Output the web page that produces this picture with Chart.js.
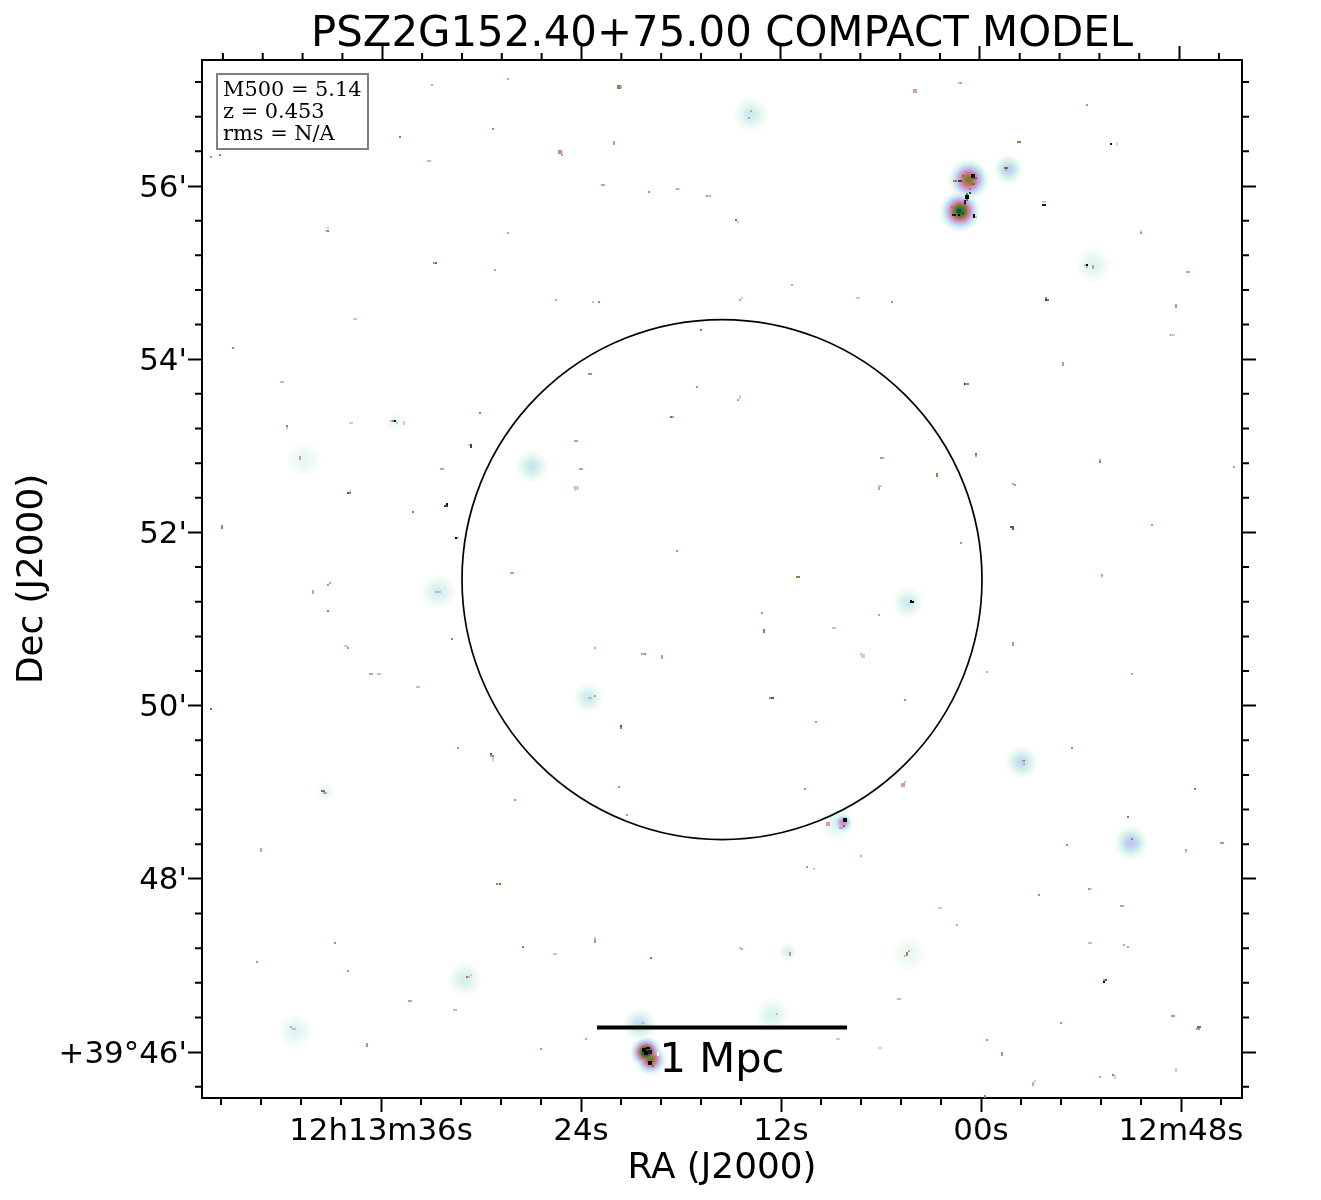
<!DOCTYPE html>
<html><head><meta charset="utf-8">
<style>html,body{margin:0;padding:0;background:#fff}canvas{display:block}</style>
<script src="https://cdn.jsdelivr.net/npm/chart.js@4"></script>
</head><body><canvas id="c" width="1321" height="1200"></canvas>
<script>
// Axis values: RA = seconds relative to 12h13m00s, Dec = arcminutes relative to +39d
const raTicks = [36, 24, 12, 0, -12];
const raTickLabels = ['12h13m36s', '24s', '12s', '00s', '12m48s'];
const raMinor = [45.6,43.2,40.8,38.4,33.6,31.2,28.8,26.4,21.6,19.2,16.8,14.4,9.6,7.2,4.8,2.4,-2.4,-4.8,-7.2,-9.6,-14.4];
const decTicks = [46, 48, 50, 52, 54, 56];
const decTickLabels = ["+39°46'", "48'", "50'", "52'", "54'", "56'"];
const decMinor = [45.6,46.4,46.8,47.2,47.6,48.4,48.8,49.2,49.6,50.4,50.8,51.2,51.6,52.4,52.8,53.2,53.6,54.4,54.8,55.2,55.6,56.4,56.8,57.2];
const titleText = 'PSZ2G152.40+75.00 COMPACT MODEL';
const noteLines = ['M500 = 5.14', 'z = 0.453', 'rms = N/A'];

// Extended emission: [RA, Dec, peak colour level above the halo, sigma]
const sources = [
 [40.62,52.840,.02,7.3],[35.14,53.263,.01,4],[26.94,52.759,.10,7.3],[32.56,51.317,.07,7.3],[39.32,49.010,.01,4],
 [30.98,46.839,.06,7.3],[41.14,46.242,.03,7.3],[13.82,56.824,.08,7.5],[23.56,50.092,.08,6.5],[8.62,48.641,.04,7.3],
 [8.28,48.648,.33,4.5],[11.60,47.155,.05,4],[12.52,46.435,.05,7.3],[20.48,46.319,.12,7.3],[-1.64,56.193,.17,6.6],
 [0.74,56.074,.52,9],[1.26,55.708,.66,9],[-6.72,55.084,.04,7.3],[4.40,51.189,.08,6.8],[-2.44,49.349,.13,7.3],
 [-9.00,48.417,.18,7.6],[4.34,47.136,.01,7.3],[19.82,45.915,.55,7],[20.10,46.000,.75,7]
];
// Compact pixels per colour: [RA, Dec, shape] (shape 0 square, 1 wide, 2 tall, 3 large)
const paleBlue = [[39.18,55.511],[39.30,55.484],[37.56,54.464,1],[37.80,53.263,1],[35.02,53.263],[34.62,53.263,2],[41.64,53.209],[30.72,53.013],[37.86,52.481],[18.12,55.966],[14.58,55.588],[23.28,54.664],[14.34,54.711],[7.38,54.711,1],[14.46,53.563,2],[24.22,52.512,3],[24.36,52.485],[6.06,52.539,1],[-8.16,56.489],[-3.76,55.812,1],[-9.60,55.484],[-11.54,54.283,1],[-7.26,51.488],[38.08,50.685,1],[29.28,49.384,2],[30.60,46.885],[7.06,50.574,3],[10.02,48.109],[23.16,47.312],[8.56,46.157,1],[6.06,46.042,1],[2.44,47.659,1],[-12.32,48.310],[-6.60,47.886],[-3.24,45.661],[-8.04,45.718,2],[-11.70,45.796,2]];
const lavender = [[33.12,56.293,1],[41.94,53.740,1],[35.40,53.290],[32.66,51.317,1],[32.50,51.317,1],[25.14,56.393],[1.32,57.194],[-6.24,55.092],[-6.36,55.065],[0.30,55.638],[36.12,50.362,1],[33.78,50.212,1],[30.72,46.862],[31.56,46.481,1],[41.20,46.262,1],[8.82,50.893,1],[7.18,50.593],[23.44,50.085,1],[25.56,47.136,1],[14.46,47.197],[12.24,46.435],[20.26,46.331,1],[4.56,49.114],[-6.54,47.255,1],[4.56,47.105],[4.92,46.608,1],[31.38,51.939]];
const orchid = [[32.96,57.171],[28.38,57.240],[41.88,53.740],[28.38,55.461],[29.16,55.034],[40.86,52.855,2],[32.34,52.736,1],[28.12,51.534,1],[21.60,57.144],[13.80,56.870],[13.92,56.790],[22.02,56.501,2],[25.14,56.362],[22.66,56.016,1],[18.24,55.966],[16.26,55.889],[11.34,54.861],[25.50,54.688],[14.46,54.688],[18.48,53.336],[24.28,53.059,1],[24.00,52.736,1],[24.36,52.512,2],[5.88,52.863],[6.12,52.512,2],[3.94,57.101,3],[1.20,57.194],[-1.52,56.189],[-6.72,55.065,2],[-12.40,55.011,1],[0.30,52.886],[-7.14,52.839],[-15.18,52.759],[-1.94,52.562],[-7.26,51.511],[39.06,51.413],[40.08,51.317,2],[36.58,50.362,1],[29.40,49.415],[39.36,48.987,1],[43.20,48.337,2],[34.24,46.585,1],[41.40,46.285],[6.12,51.043],[23.16,50.662],[20.28,50.593,1],[19.14,50.566,2],[23.16,50.108],[8.34,48.637],[8.40,48.591,1],[9.18,48.637,3],[7.20,48.260],[14.36,47.189],[23.70,46.157],[-0.36,50.385],[-9.06,50.362],[-2.58,49.326],[4.70,49.087,3],[-12.32,48.333],[-8.44,47.682,1],[1.44,47.463],[-8.58,47.232],[-8.82,47.209],[4.32,47.162],[-3.12,45.634,2],[-7.14,45.707]];
const pink = [[46.20,56.339],[32.82,55.115],[25.26,56.393,3],[19.92,55.935],[16.42,55.889],[17.04,53.683],[14.58,53.533],[6.00,52.863],[18.24,51.788],[37.98,50.662],[39.18,51.390],[31.38,49.507],[27.96,48.906],[43.44,47.035],[37.98,46.931],[36.84,46.084,2],[26.40,46.030],[-6.36,56.940],[-9.60,55.461],[-11.70,54.614,2],[-11.40,54.283],[-4.92,53.948,2],[-2.04,52.543],[-10.26,52.089],[1.20,51.881],[13.14,51.066],[9.90,49.807],[21.72,49.057],[10.56,49.034],[21.24,48.733],[10.44,48.133],[23.16,47.286,2],[11.46,47.136,2],[-1.92,50.716,2],[-2.50,49.357],[-14.46,48.410,1],[-6.48,47.886],[-7.38,46.835],[-11.54,46.412,1],[-13.04,46.262,1],[-4.80,46.331],[-0.36,46.134],[-1.26,45.973,2]];
const rose = [[29.28,56.663],[22.92,54.664],[5.34,54.664],[23.44,53.833,1],[38.76,47.255],[12.66,50.085],[4.56,50.061],[-5.46,49.507],[-5.16,48.387],[-3.48,47.809]];
const dustyBrown = [[39.18,55.484],[44.88,54.133],[35.28,53.290],[41.64,53.232],[30.06,53.382],[37.86,52.459],[45.54,52.062,2],[39.18,51.089],[31.74,50.766],[29.28,49.415],[30.84,46.862],[1.54,56.062,1],[0.82,53.713,1],[-3.90,54.703],[-7.14,52.812],[-2.58,49.357],[-9.06,48.456],[4.44,47.136,2],[-7.92,45.730],[-0.24,45.484,2],[21.60,49.738]];
const tan = [[34.86,56.570],[45.66,56.362],[34.08,52.239],[21.72,57.144,3],[16.80,54.341],[10.96,51.488,1],[-2.30,56.512,1],[0.66,55.966],[1.74,55.762],[2.64,52.662,2],[27.48,47.209],[13.02,50.866,2],[20.16,50.593],[19.80,47.082],[-12.84,49.034],[-8.82,48.710],[29.04,47.936]];
const olive = [[32.68,55.115],[14.70,55.612],[18.60,53.336],[46.20,49.957],[39.48,49.010,1],[28.86,47.936],[1.08,56.116],[0.30,56.089],[0.48,56.020,1],[0.82,55.908],[0.82,55.839],[0.96,55.785],[-1.52,56.212,1],[-4.02,54.688],[0.30,52.909],[8.22,48.606],[19.68,45.838],[-13.10,46.285,1]];
const green = [[37.98,52.459],[-1.86,52.058,1],[-1.92,52.035],[29.40,49.438],[12.52,50.085,1],[21.60,49.761],[-7.50,46.835]];
const teal = [[30.62,53.001,2],[32.10,52.308,1],[0.42,56.089],[1.26,56.062,1],[0.66,55.923],[1.30,55.716,3],[1.10,55.692],[-3.90,54.688]];
const navy = [[0.96,55.812,2],[1.60,55.665,1],[-3.76,55.785,1],[0.96,53.713],[19.88,46.000,3]];
const black = [[35.16,53.290],[32.04,52.331],[31.50,51.939],[0.48,56.116,3],[0.82,55.877,3],[1.34,55.665],[0.42,55.654,2],[-7.80,56.489],[-6.36,55.092],[8.16,48.675,3],[4.20,51.209],[4.14,51.193,1],[-7.38,46.808],[20.22,46.023,3],[19.98,46.050,1],[20.12,45.992,3],[19.88,45.877,3]];
const holes = [[19.38,45.973,2]];
const speckGroups = [[paleBlue,.2],[lavender,.25],[orchid,.32],[pink,.38],[rose,.43],[dustyBrown,.47],[tan,.5],[olive,.57],[green,.65],[teal,.75],[navy,.88],[black,1],[holes,0]];

// R500 circle and 1 Mpc scale bar
const r500Circle = [{x:15.54,y:51.456}];
const scaleBarRA = [23.04, 8.04];
const scaleBarDec = 46.283;
const scaleBarLabel = '1 Mpc';

// reversed cubehelix colour map
function cmap(v){
  const f = 1 - Math.min(1, Math.max(0, v));
  const a = f*(1-f)/2, ang = 2*Math.PI*(0.5/3 - 1.5*f), c = Math.cos(ang), s = Math.sin(ang);
  const ch = (p,q)=>Math.round(255*Math.min(1,Math.max(0,f + a*(p*c+q*s))));
  return `rgb(${ch(-0.14861,1.78277)},${ch(-0.29227,-0.90649)},${ch(1.97294,0)})`;
}
const shapeSize = [[2,2],[4,2],[2,4],[4,4]];
const styleCache = {};
function speckStyle(level, shape){
  const k = level+'_'+shape;
  if(!styleCache[k]){
    const cv = document.createElement('canvas');
    cv.width = shapeSize[shape][0]; cv.height = shapeSize[shape][1];
    const g = cv.getContext('2d'); g.fillStyle = level===0?'#fff':cmap(level); g.fillRect(0,0,cv.width,cv.height);
    styleCache[k] = cv;
  }
  return styleCache[k];
}
const HALO_LEVEL = 0.033;
function haloFill(ctx){
  const d = ctx.raw; if(!d) return 'transparent';
  const sc = ctx.chart.scales, px = sc.x.getPixelForValue(d.x), py = sc.y.getPixelForValue(d.y), R = d.sigma*2.4;
  if(!isFinite(px)||!isFinite(py)) return 'transparent';
  const g = ctx.chart.ctx.createRadialGradient(px,py,0,px,py,R);
  for(let i=0;i<=16;i++){
    const t=i/16, r=t*R;
    g.addColorStop(t, cmap((d.peak*Math.exp(-r*r/(2*d.sigma*d.sigma))+HALO_LEVEL)*(1-Math.pow(t,3))));
  }
  return g;
}
const datasets = [];
datasets.push({label:'extended', order:5,
  data:sources.map(s=>({x:s[0],y:s[1],peak:s[2],sigma:s[3]})),
  pointBackgroundColor:haloFill, pointBorderWidth:0, pointRadius:c=>c.raw?c.raw.sigma*2.4:0, pointStyle:'circle'});
speckGroups.forEach(([arr,level],i)=>datasets.push({label:'pixels '+i, order:4,
  data:arr.map(p=>({x:p[0],y:p[1],shape:p[2]||0})),
  pointRadius:1, pointStyle:c=>speckStyle(level,c.raw?c.raw.shape:0)}));
datasets.push({label:'R500', order:3, data:r500Circle, pointRadius:260, pointBackgroundColor:'transparent',
  pointBorderColor:'#000', pointBorderWidth:1.7, clip:false});
datasets.push({label:'scale bar', order:2, showLine:true, data:scaleBarRA.map(x=>({x,y:scaleBarDec})),
  pointRadius:0, borderColor:'#000', borderWidth:4});

const FONT = "'DejaVu Sans'";
const decorate = {
  id:'decorate',
  beforeDatasetDraw(chart,args){ if(args.index===0) chart.ctx.globalCompositeOperation='darken'; chart.ctx.imageSmoothingEnabled=false; },
  afterDatasetDraw(chart,args){ if(args.index===0) chart.ctx.globalCompositeOperation='source-over'; },
  afterDraw(chart){
    const c = chart.ctx, {x,y,xTop} = chart.scales, A = chart.chartArea;
    // minor ticks on all four sides
    c.save(); c.strokeStyle='#000'; c.lineWidth=2; c.beginPath();
    raMinor.forEach(v=>{ const p=x.getPixelForValue(v); c.moveTo(p,A.bottom); c.lineTo(p,A.bottom+7); const q=xTop.getPixelForValue(v); c.moveTo(q,A.top); c.lineTo(q,A.top-7); });
    decMinor.forEach(v=>{ const p=y.getPixelForValue(v); c.moveTo(A.left,p); c.lineTo(A.left-7,p); c.moveTo(A.right,p); c.lineTo(A.right+7,p); });
    c.stroke();
    // scale bar caption
    c.fillStyle='#000'; c.font=`41.67px ${FONT}`; c.textAlign='center'; c.textBaseline='alphabetic';
    c.fillText(scaleBarLabel, x.getPixelForValue((scaleBarRA[0]+scaleBarRA[1])/2), y.getPixelForValue(scaleBarDec)+44);
    // parameter box
    const bx=A.left+15, by=A.top+14;
    c.fillStyle='#fff'; c.fillRect(bx,by,151,75);
    c.strokeStyle='#808080'; c.lineWidth=2; c.strokeRect(bx,by,151,75);
    c.fillStyle='#000'; c.font="20.9px 'DejaVu Serif'"; c.textAlign='left';
    noteLines.forEach((t,i)=>c.fillText(t,bx+6,by+22+i*22));
    c.restore();
  }
};
const axisCommon = {
  grid:{drawOnChartArea:false, drawTicks:true, tickLength:14, tickWidth:2, tickColor:'#000'},
  border:{display:true, color:'#000', width:2}
};
const xRange = {type:'linear', reverse:true, min:-15.66, max:46.74, offset:false};
// RA lines converge slightly towards the north, so the top edge has a slightly wider RA span
const xTopRange = {type:'linear', reverse:true, min:-15.79, max:46.86, offset:false};
const yRange = {type:'linear', min:45.47, max:57.455, offset:false};
const setTicks = vals => scale => { scale.ticks = vals.map(v=>({value:v})); };

new Chart(document.getElementById('c'), {
  type:'scatter',
  data:{datasets},
  plugins:[decorate],
  options:{
    responsive:false, animation:false, devicePixelRatio:1, events:[],
    layout:{padding:0, autoPadding:false},
    plugins:{
      legend:{display:false}, tooltip:{enabled:false},
      title:{display:true, text:titleText, fullSize:false, color:'#000',
        font:{family:FONT, size:41.87, weight:'normal', lineHeight:40/41.87}, padding:{top:15,bottom:5}}
    },
    scales:{
      x:{...xRange, position:'bottom', ...axisCommon, afterBuildTicks:setTicks(raTicks),
        afterFit(s){s.height=102;},
        ticks:{autoSkip:false, maxRotation:0, padding:1, color:'#000', font:{family:FONT,size:30.9},
          callback:v=>raTickLabels[raTicks.indexOf(v)]},
        title:{display:true, text:'RA (J2000)', color:'#000', font:{family:FONT,size:35.8}, padding:{top:0,bottom:10}}},
      xTop:{...xTopRange, position:'top', ...axisCommon, afterBuildTicks:setTicks(raTicks),
        afterFit(s){s.height=0;}, ticks:{display:false}},
      y:{...yRange, position:'left', ...axisCommon, afterBuildTicks:setTicks(decTicks),
        afterFit(s){s.width=202;},
        ticks:{autoSkip:false, padding:1, labelOffset:2.5, color:'#000', font:{family:FONT,size:30.9},
          callback:v=>decTickLabels[decTicks.indexOf(v)]},
        title:{display:true, text:'Dec (J2000)', color:'#000', font:{family:FONT,size:35.8}, padding:{top:11,bottom:0}}},
      yRight:{...yRange, position:'right', ...axisCommon, afterBuildTicks:setTicks(decTicks),
        afterFit(s){s.width=79;}, ticks:{display:false}}
    }
  }
});
</script></body></html>
